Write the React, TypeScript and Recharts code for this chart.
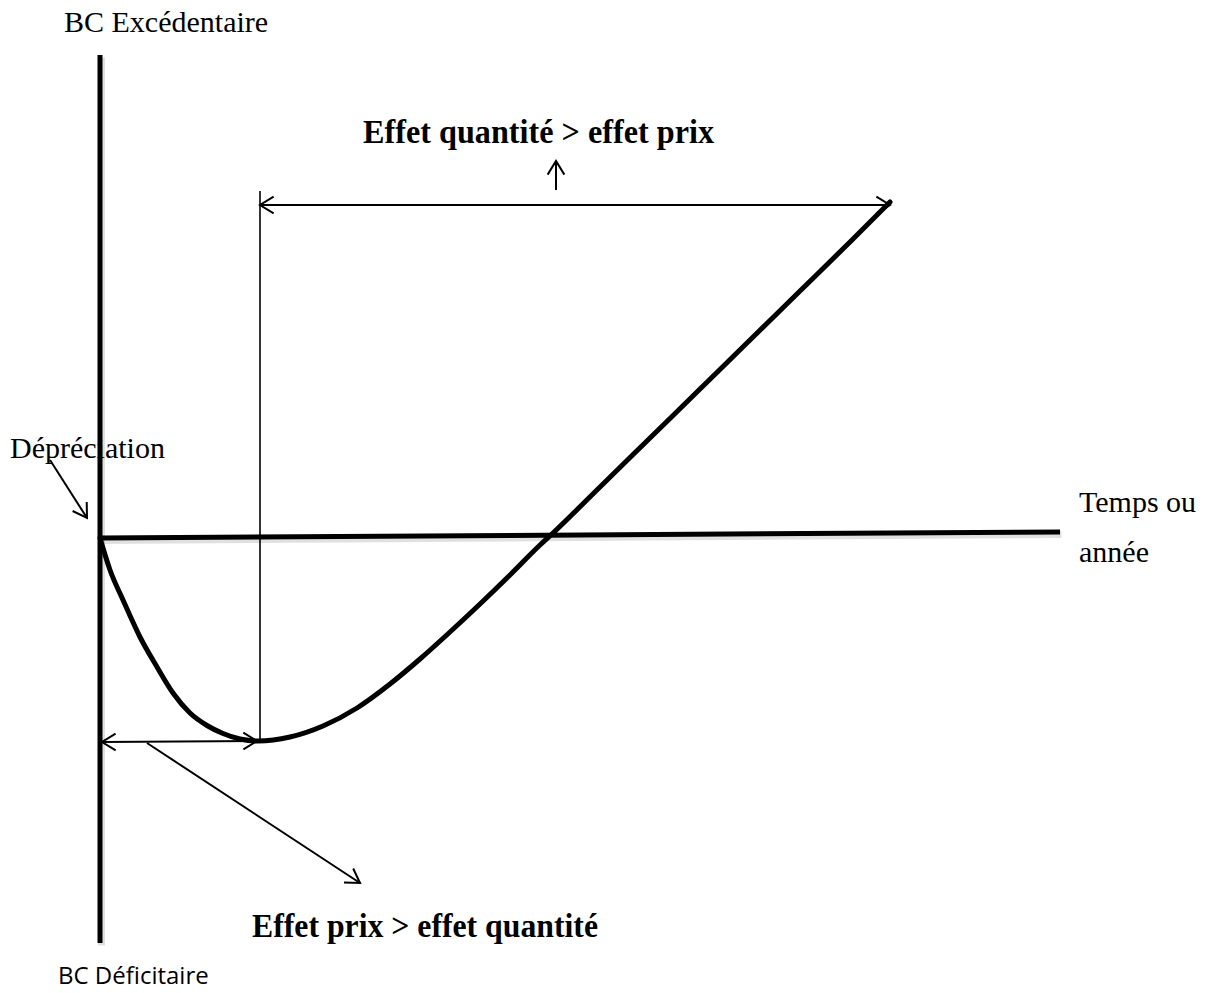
import { Line, LineChart, ReferenceDot, ReferenceLine, XAxis, YAxis } from 'recharts';

// J-curve: trade balance after a depreciation
const periods = [0, 1, 2.3, 4, 5.7, 7.3, 9, 10.7, 12.3, 14, 15.8, 19, 22.3, 25.7, 29, 32, 35, 38, 41, 44, 45.3, 50, 55, 60, 65, 70, 75, 79];
const balance = [0, -3.2, -6.2, -9.9, -12.9, -15.5, -17.5, -18.75, -19.55, -20.1, -20.3, -19.9, -18.8, -17, -14.6, -12.1, -9.4, -6.6, -3.7, -0.7, 0.5, 5.1, 10, 14.9, 19.8, 24.7, 29.6, 33.6];

const axisLabels = ['BC Excédentaire', 'BC Déficitaire', 'Temps ou', 'année', 'Dépréciation'];
const effectLabels = ['Effet quantité > effet prix', 'Effet prix > effet quantité'];

const data = periods.map((t, i) => ({ t, bc: balance[i] }));

const SERIF = '"Liberation Serif", "Times New Roman", serif';
const SANS = '"Open Sans", "Noto Sans", sans-serif';

type Pt = { x: number; y: number };

function head(tip: Pt, from: Pt, len = 16, spread = 0.55) {
  const a = Math.atan2(from.y - tip.y, from.x - tip.x);
  const p1 = { x: tip.x + len * Math.cos(a + spread), y: tip.y + len * Math.sin(a + spread) };
  const p2 = { x: tip.x + len * Math.cos(a - spread), y: tip.y + len * Math.sin(a - spread) };
  return `M${p1.x},${p1.y} L${tip.x},${tip.y} L${p2.x},${p2.y}`;
}

const arrow = (startHead: boolean, endHead: boolean, w = 2) => (p: any) => {
  const a = { x: p.x1, y: p.y1 };
  const b = { x: p.x2, y: p.y2 };
  return (
    <g stroke="#000" strokeWidth={w} fill="none">
      <line x1={a.x} y1={a.y} x2={b.x} y2={b.y} />
      {startHead && <path d={head(a, b)} />}
      {endHead && <path d={head(b, a)} />}
    </g>
  );
};

// thick axis line with a soft grey shadow under it
const thick = (p: any) => (
  <g>
    <line x1={p.x1 + 1.5} y1={p.y1 + 2.5} x2={p.x2 + 1.5} y2={p.y2 + 2.5} stroke="#000" strokeOpacity={0.12} strokeWidth={7} />
    <line x1={p.x1} y1={p.y1} x2={p.x2} y2={p.y2} stroke="#000" strokeWidth={5} />
  </g>
);

const label = (text: string, opts: { bold?: boolean; sans?: boolean; size: number; len?: number }) => (p: any) => (
  <text
    x={p.cx}
    y={p.cy}
    fontFamily={opts.sans ? SANS : SERIF}
    fontWeight={opts.bold ? 700 : 400}
    fontSize={opts.size}
    fill="#000"
    textLength={opts.len}
    lengthAdjust={opts.len ? 'spacingAndGlyphs' : undefined}
  >
    {text}
  </text>
);

export default function App() {
  return (
    <div style={{ position: 'absolute', left: 0, top: 0, width: 1206, height: 993, background: '#fff' }}>
      <LineChart width={1206} height={993} data={data} margin={{ top: 0, right: 0, bottom: 0, left: 0 }}>
        <XAxis type="number" dataKey="t" domain={[-10, 110.6]} hide />
        <YAxis type="number" domain={[-45.5, 53.8]} hide />

        {/* axes */}
        <ReferenceLine segment={[{ x: 0, y: 48.3 }, { x: 0, y: -40.5 }]} shape={thick} ifOverflow="visible" />
        <ReferenceLine segment={[{ x: 0, y: 0 }, { x: 96, y: 0.6 }]} shape={thick} ifOverflow="visible" />

        {/* guides and arrows */}
        <ReferenceLine segment={[{ x: 16, y: 34.7 }, { x: 16, y: -20.3 }]} shape={arrow(false, false, 1.6)} ifOverflow="visible" />
        <ReferenceLine segment={[{ x: 16, y: 33.3 }, { x: 79, y: 33.3 }]} shape={arrow(true, true)} ifOverflow="visible" />
        <ReferenceLine segment={[{ x: 45.6, y: 34.8 }, { x: 45.6, y: 37.7 }]} shape={arrow(false, true)} ifOverflow="visible" />
        <ReferenceLine segment={[{ x: 0.2, y: -20.4 }, { x: 15.7, y: -20.3 }]} shape={arrow(true, true)} ifOverflow="visible" />
        <ReferenceLine segment={[{ x: 4.7, y: -20.5 }, { x: 26, y: -34.5 }]} shape={arrow(false, true)} ifOverflow="visible" />
        <ReferenceLine segment={[{ x: -5, y: 7.8 }, { x: -1.3, y: 2 }]} shape={arrow(false, true)} ifOverflow="visible" />

        <Line
          type="monotone"
          dataKey="bc"
          stroke="#000"
          strokeWidth={5}
          dot={false}
          activeDot={false}
          isAnimationActive={false}
          strokeLinecap="round"
        />

        {/* texts */}
        <ReferenceDot x={-3.6} y={50.6} r={0} ifOverflow="visible" shape={label(axisLabels[0], { size: 30 })} />
        <ReferenceDot x={-4.2} y={-44.6} r={0} ifOverflow="visible" shape={label(axisLabels[1], { size: 24, sans: true })} />
        <ReferenceDot x={97.9} y={2.6} r={0} ifOverflow="visible" shape={label(axisLabels[2], { size: 30 })} />
        <ReferenceDot x={97.9} y={-2.4} r={0} ifOverflow="visible" shape={label(axisLabels[3], { size: 30 })} />
        <ReferenceDot x={-9} y={8} r={0} ifOverflow="visible" shape={label(axisLabels[4], { size: 30 })} />
        <ReferenceDot x={26.3} y={39.5} r={0} ifOverflow="visible" shape={label(effectLabels[0], { size: 33, bold: true, len: 351 })} />
        <ReferenceDot x={15.2} y={-39.9} r={0} ifOverflow="visible" shape={label(effectLabels[1], { size: 33, bold: true, len: 346 })} />
      </LineChart>
    </div>
  );
}
